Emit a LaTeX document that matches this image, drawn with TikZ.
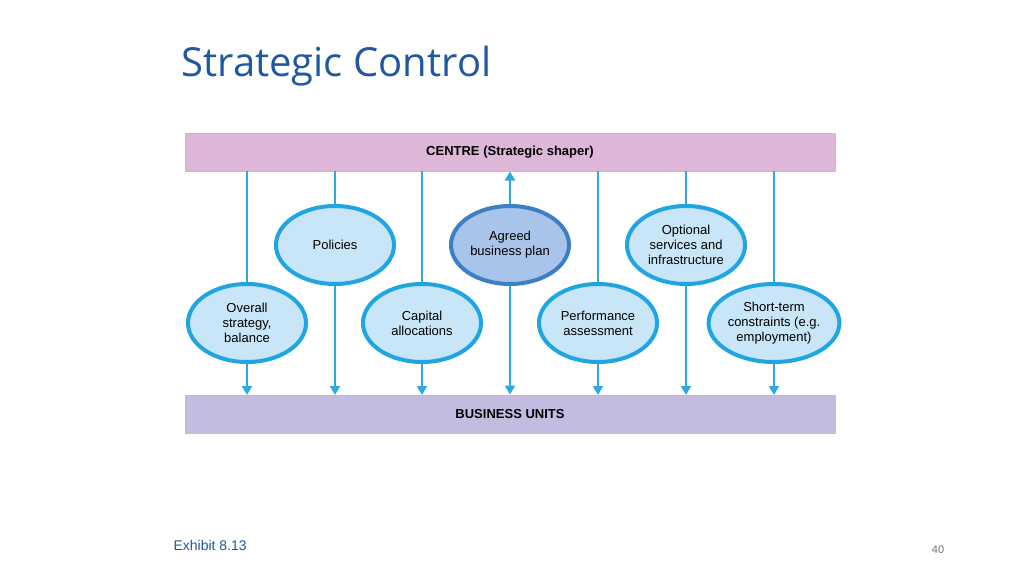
\documentclass[tikz,border=0pt]{standalone}
\usepackage{fontspec}
\setmainfont{Liberation Sans}
\newfontfamily\titlefont{Open Sans}
\usetikzlibrary{shapes.geometric,arrows.meta}
\definecolor{titleblue}{HTML}{1F57A0}
\definecolor{arr}{HTML}{2AAAE0}
\definecolor{centrefill}{HTML}{DDB6D8}
\definecolor{bufill}{HTML}{C4BCE0}
\definecolor{ellfill}{HTML}{C8E6F8}
\definecolor{ellring}{HTML}{1FA6E2}
\definecolor{agfill}{HTML}{A9C4EA}
\definecolor{agring}{HTML}{3B7FC4}
\begin{document}
\begin{tikzpicture}[x=1pt,y=-1pt,
  bar/.style={draw=black!25,line width=1pt,minimum width=650pt,minimum height=38pt,font=\bfseries\fontsize{13}{15}\selectfont},
  ell/.style={ellipse,draw=ellring,line width=4pt,fill=ellfill,minimum width=118pt,minimum height=78pt,align=center,font=\fontsize{13}{15}\selectfont,inner sep=0pt},
  ag/.style={ell,draw=agring,fill=agfill},
  arrw/.style={draw=arr,line width=2.2pt,-{Triangle[length=9pt,width=10pt]}}]
\useasboundingbox (0,0) rectangle (1024,575);
\node[anchor=west,text=titleblue,font=\titlefont\fontsize{40}{46}\selectfont] (title) at (178,66) {Strategic Control};
\node[bar,fill=centrefill] (centre) at (510,152) {CENTRE (Strategic shaper)};
\node[bar,fill=bufill] (bu) at (510,414) {BUSINESS UNITS};
\foreach \n/\x in {c1/247,c2/335,c3/422,c5/598,c6/686,c7/774}{
  \coordinate (\n t) at (\x,171);
  \coordinate (\n b) at (\x,395);
  \draw[arrw] (\n t) -- (\n b);
}
\node[ell] (pol) at (335,245) {Policies};
\node[ag] (agr) at (510,245) {Agreed\\business plan};
\node[ell] (opt) at (686,245) {Optional\\services and\\infrastructure};
\node[ell] (ovr) at (247,323) {Overall\\strategy,\\balance};
\node[ell] (cap) at (422,323) {Capital\\allocations};
\node[ell] (perf) at (598,323) {Performance\\assessment};
\node[ell] (st) at (774,323) {Short-term\\constraints (e.g.\\employment)};
\draw[arrw] (agr.north) -- (agr.north |- centre.south);
\draw[arrw] (agr.south) -- (agr.south |- bu.north);
\node[anchor=west,text=titleblue,font=\fontsize{14}{16}\selectfont] (ex) at (170,545) {Exhibit 8.13};
\node[text=black!55,font=\fontsize{11}{13}\selectfont] (pg) at (938,550) {40};
\end{tikzpicture}
\end{document}
